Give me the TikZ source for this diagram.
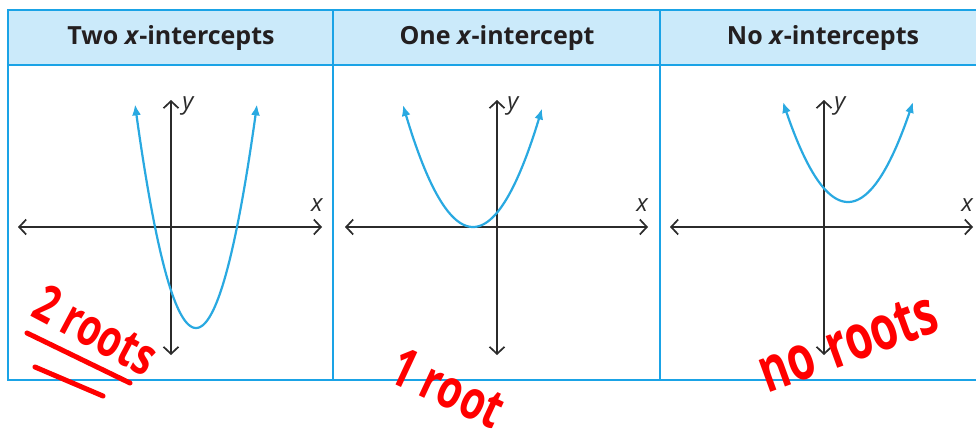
\documentclass[tikz,border=0pt]{standalone}
\usepackage{fontspec}
\setmainfont{Open Sans}
\usetikzlibrary{arrows.meta}
\definecolor{tblblue}{HTML}{1AA3E6}
\definecolor{hdrfill}{HTML}{CBEAFA}
\definecolor{curveblue}{HTML}{29A9E1}
\definecolor{axisgray}{HTML}{2B2B2B}
\definecolor{hdrtext}{HTML}{231F20}
\definecolor{inkred}{HTML}{FF0000}
\begin{document}
\begin{tikzpicture}[x=1pt,y=-1pt,
  tbl/.style={draw=tblblue, line width=2.6pt},
  hdr/.style={font=\fontsize{25}{27}\selectfont\bfseries, text=hdrtext, inner sep=0pt},
  axis/.style={draw=axisgray, line width=1.7pt,
     {Straight Barb[length=7pt,width=15pt,line width=1.7pt]}-{Straight Barb[length=7pt,width=15pt,line width=1.7pt]}},
  curve/.style={draw=curveblue, line width=2.2pt,
     {Latex[length=11pt,width=9pt]}-{Latex[length=11pt,width=9pt]}},
  lbl/.style={font=\fontsize{24}{26}\selectfont\itshape, text=axisgray, inner sep=0pt},
  ink/.style={font=\fontsize{40}{42}\selectfont\bfseries, text=inkred, inner sep=0pt},
  inkline/.style={draw=inkred, line width=5pt, line cap=round}
]
\useasboundingbox (0,0) rectangle (976,444);
\fill[white] (0,0) rectangle (976,444);
% table
\fill[hdrfill] (8,10) rectangle (980,65);
\draw[tbl] (980,10) -- (8,10) -- (8,380) -- (980,380);
\draw[tbl] (8,65) -- (980,65);
\draw[tbl] (333,10) -- (333,380);
\draw[tbl] (660,10) -- (660,380);
% headers
\node[hdr] (h1) at (171,38) {Two \textit{x}-intercepts};
\node[hdr] (h2) at (497,38) {One \textit{x}-intercept};
\node[hdr] (h3) at (823,38) {No \textit{x}-intercepts};
% panel 1
\coordinate (xl1) at (18,227); \coordinate (xr1) at (322,227);
\coordinate (yt1) at (171,100); \coordinate (yb1) at (171,355);
\draw[axis] (xl1) -- (xr1);
\draw[axis] (yb1) -- (yt1);
\draw[curve] plot[domain=135:257, samples=80] (\x,{328-0.0601*(\x-196)*(\x-196)});
\node[lbl] (x1) at (317,205) {x};
\node[lbl] (y1) at (188,106) {y};
% panel 2
\coordinate (xl2) at (345,227); \coordinate (xr2) at (648,227);
\coordinate (yt2) at (497,100); \coordinate (yb2) at (497,355);
\draw[axis] (xl2) -- (xr2);
\draw[axis] (yb2) -- (yt2);
\draw[curve] plot[domain=403:542, samples=80] (\x,{227-0.0249*(\x-473)*(\x-473)});
\node[lbl] (x2) at (642,205) {x};
\node[lbl] (y2) at (513,106) {y};
% panel 3
\coordinate (xl3) at (670,227); \coordinate (xr3) at (973,227);
\coordinate (yt3) at (824,100); \coordinate (yb3) at (824,355);
\draw[axis] (xl3) -- (xr3);
\draw[axis] (yb3) -- (yt3);
\draw[curve] plot[domain=783:913, samples=80] (\x,{202-0.0237*(\x-848)*(\x-848)});
\node[lbl] (x3) at (967,205) {x};
\node[lbl] (y3) at (840,106) {y};
% handwritten notes
\node[ink, rotate=-28] (n1) at (96,330) {\scalebox{0.95}[1.3]{2 roots}};
\coordinate (u1a) at (27,333); \coordinate (u1b) at (130,383);
\coordinate (u2a) at (35,367); \coordinate (u2b) at (103,396);
\draw[inkline] (u1a) -- (u1b);
\draw[inkline] (u2a) -- (u2b);
\node[ink, rotate=-25] (n2) at (448,388) {\scalebox{1}[1.35]{1 root}};
\node[ink, rotate=20] (n3) at (848,343) {\scalebox{1.1}[1.55]{no\,\,roots}};
\end{tikzpicture}
\end{document}
